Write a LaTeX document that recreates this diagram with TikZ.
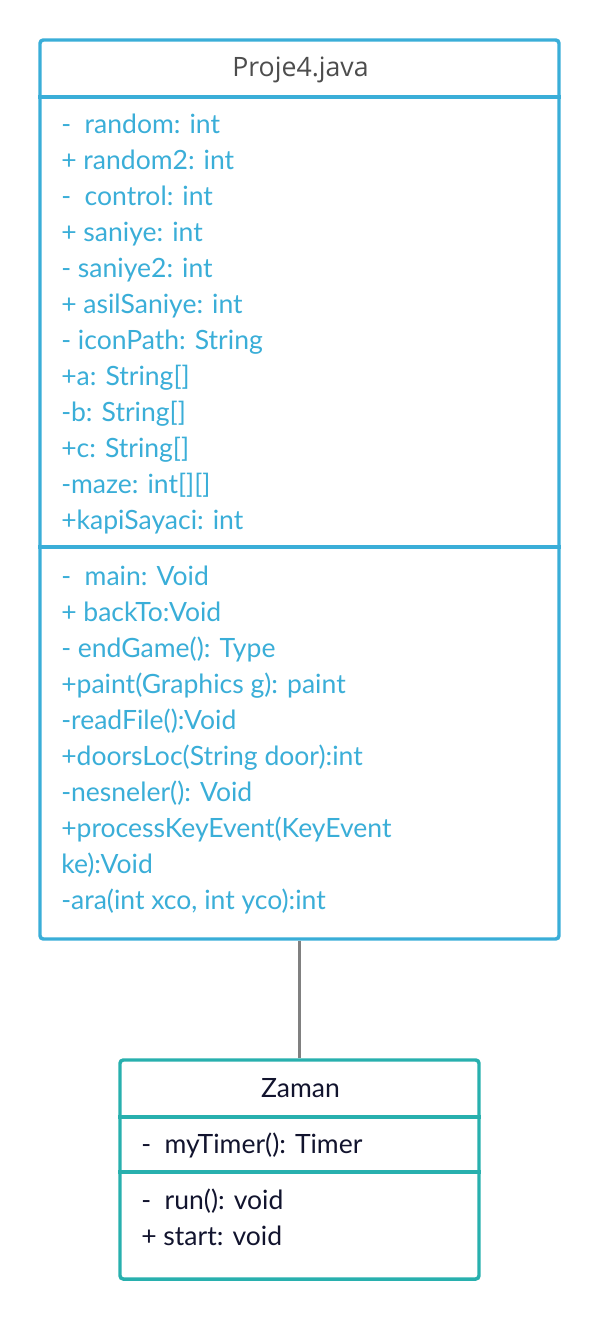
\documentclass[tikz,border=0pt]{standalone}
\usepackage{fontspec}
\setmainfont{Lato}
\newfontfamily\titlefont{Open Sans}
\definecolor{cblue}{HTML}{3AAED8}
\definecolor{cteal}{HTML}{28B0AE}
\definecolor{ctitle}{HTML}{4D4D4D}
\definecolor{cdark}{HTML}{12142E}
\definecolor{cline}{HTML}{808080}
\tikzset{
  classbox/.style={draw, line width=2.6pt, rounded corners=2.5pt, fill=white, inner sep=0pt},
  sep/.style={line width=2.6pt},
  txt/.style={anchor=base west, inner sep=0pt, font=\fontsize{19.9}{23}\selectfont},
  ttl/.style={anchor=base, inner sep=0pt, font=\fontsize{19.9}{23}\selectfont},
}
\begin{document}
\begin{tikzpicture}[x=0.75pt,y=-0.75pt]
\useasboundingbox (0,0) rectangle (600,1320);
% boxes
\node[classbox, draw=cblue, minimum width=389.25pt, minimum height=674.25pt] (proj) at (299.5,489.5) {};
\node[classbox, draw=cteal, minimum width=269.25pt, minimum height=164.25pt] (zam) at (299.5,1169.5) {};
% connector
\draw[cline, line width=2.6pt] (proj.south) -- (zam.north);
% separators
\draw[sep, cblue] (proj.west |- 0,97) -- (proj.east |- 0,97);
\draw[sep, cblue] (proj.west |- 0,547) -- (proj.east |- 0,547);
\draw[sep, cteal] (zam.west |- 0,1117) -- (zam.east |- 0,1117);
\draw[sep, cteal] (zam.west |- 0,1172) -- (zam.east |- 0,1172);
% title
\node[ttl, text=ctitle, font=\titlefont\fontsize{20}{24}\selectfont] (t1) at (300.5,77) {Proje4.java};
% attributes
\begin{scope}[every node/.append style={txt, text=cblue}]
\node (a1) at (61,133) {-~~random: int};
\node (a2) at (61,169) {+ random2: int};
\node (a3) at (61,205) {-~~control: int};
\node (a4) at (61,241) {+ saniye: int};
\node (a5) at (61,277) {- saniye2: int};
\node (a6) at (61,313) {+ asilSaniye: int};
\node (a7) at (61,349) {- iconPath: String};
\node (a8) at (61,385) {+a: String[]};
\node (a9) at (61,421) {-b: String[]};
\node (a10) at (61,457) {+c: String[]};
\node (a11) at (61,493) {-maze: int[][]};
\node (a12) at (61,529) {+kapiSayaci: int};
\node (m1) at (61,585) {-~~main: Void};
\node (m2) at (61,621) {+ backTo:Void};
\node (m3) at (61,657) {- endGame(): Type};
\node (m4) at (61,693) {+paint(Graphics g): paint};
\node (m5) at (61,729) {-readFile():Void};
\node (m6) at (61,765) {+doorsLoc(String door):int};
\node (m7) at (61,801) {-nesneler(): Void};
\node (m8) at (61,837) {+processKeyEvent(KeyEvent};
\node (m9) at (61,873) {ke):Void};
\node (m10) at (61,909) {-ara(int xco, int yco):int};
\end{scope}
% Zaman
\node[ttl, text=cdark] (t2) at (300.5,1097) {Zaman};
\begin{scope}[every node/.append style={txt, text=cdark}]
\node (z1) at (141,1153) {-~~myTimer(): Timer};
\node (z2) at (141,1209) {-~~run(): void};
\node (z3) at (141,1245) {+ start: void};
\end{scope}
\end{tikzpicture}
\end{document}
